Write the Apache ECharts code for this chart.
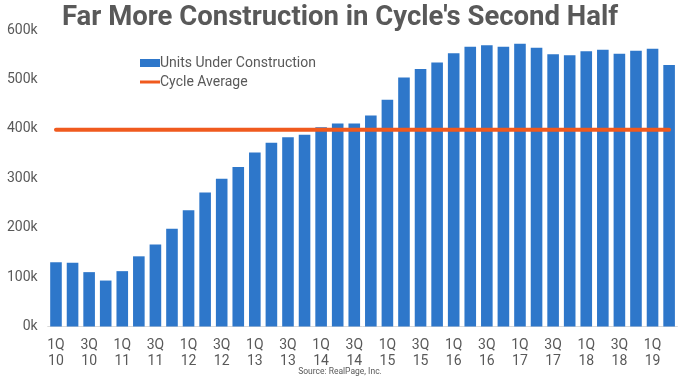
<!DOCTYPE html>
<html>
<head>
<meta charset="utf-8">
<script src="https://cdn.jsdelivr.net/npm/echarts@6/dist/echarts.min.js"></script>
<style>html,body{margin:0;padding:0;background:#fff}#c{width:680px;height:380px}</style>
</head>
<body>
<div id="c"></div>
<script>
const categories = [
  "1Q10","2Q10","3Q10","4Q10","1Q11","2Q11","3Q11","4Q11",
  "1Q12","2Q12","3Q12","4Q12","1Q13","2Q13","3Q13","4Q13",
  "1Q14","2Q14","3Q14","4Q14","1Q15","2Q15","3Q15","4Q15",
  "1Q16","2Q16","3Q16","4Q16","1Q17","2Q17","3Q17","4Q17",
  "1Q18","2Q18","3Q18","4Q18","1Q19","2Q19"
];
const unitsUnderConstruction = [
  130000,129000,110000,93000,112000,142000,166000,198000,
  235000,271000,299000,323000,352000,372000,383000,388000,
  403000,411000,411000,427000,459000,504000,521000,534000,
  553000,566000,569000,566000,572000,564000,551000,549000,
  557000,560000,552000,558000,562000,529000
];
const cycleAverage = 398000;
const yTicks = [0,100000,200000,300000,400000,500000,600000];

const txt = '#595959';
const chart = echarts.init(document.getElementById('c'), null, {renderer:'canvas'});
chart.setOption({
  animation:false,
  backgroundColor:'#fff',
  title:{
    text:"Far More Construction in Cycle's Second Half",
    left:'center', top:-1,
    textStyle:{fontFamily:'Roboto', fontWeight:'bold', fontSize:27.5, color:txt}
  },
  graphic:[{
    type:'text', left:'center', top:367,
    style:{text:'Source: RealPage, Inc.', fontFamily:'Roboto', fontSize:8.5, fill:txt}
  }],
  legend:{
    orient:'vertical', left:135, top:51, itemGap:5,
    itemWidth:20, itemHeight:8,
    textStyle:{fontFamily:'Roboto', fontSize:14, color:txt, padding:[0,0,0,-5]},
    data:[
      {name:'Units Under Construction', icon:'rect'},
      {name:'Cycle Average', icon:'path://M0,4 L20,4 L20,7 L0,7 Z'}
    ]
  },
  grid:{left:47.7, right:2.6, top:30, bottom:53.5, containLabel:false},
  xAxis:{
    type:'category', data:categories, boundaryGap:true,
    axisLine:{show:true, lineStyle:{color:'#d9d9d9', width:1}},
    axisTick:{show:false},
    axisLabel:{
      interval:1, color:txt, fontFamily:'Roboto', fontSize:14, lineHeight:16, margin:11,
      formatter:v=>v.slice(0,2)+'\n'+v.slice(2)
    }
  },
  yAxis:{
    type:'value', min:0, max:600000, interval:100000,
    splitLine:{show:false}, axisLine:{show:false}, axisTick:{show:false},
    axisLabel:{color:txt, fontFamily:'Roboto', fontSize:14, margin:10,
      formatter:v=>yTicks.includes(v)?(v/1000)+'k':''}
  },
  series:[
    {name:'Units Under Construction', type:'bar', data:unitsUnderConstruction,
     barCategoryGap:'30%', itemStyle:{color:'#2E77CA'}},
    {name:'Cycle Average', type:'line', data:categories.map(()=>cycleAverage),
     symbol:'none', lineStyle:{color:'#F05A1E', width:4, cap:'round'}, itemStyle:{color:'#F05A1E'}, z:5}
  ]
});
</script>
</body>
</html>
